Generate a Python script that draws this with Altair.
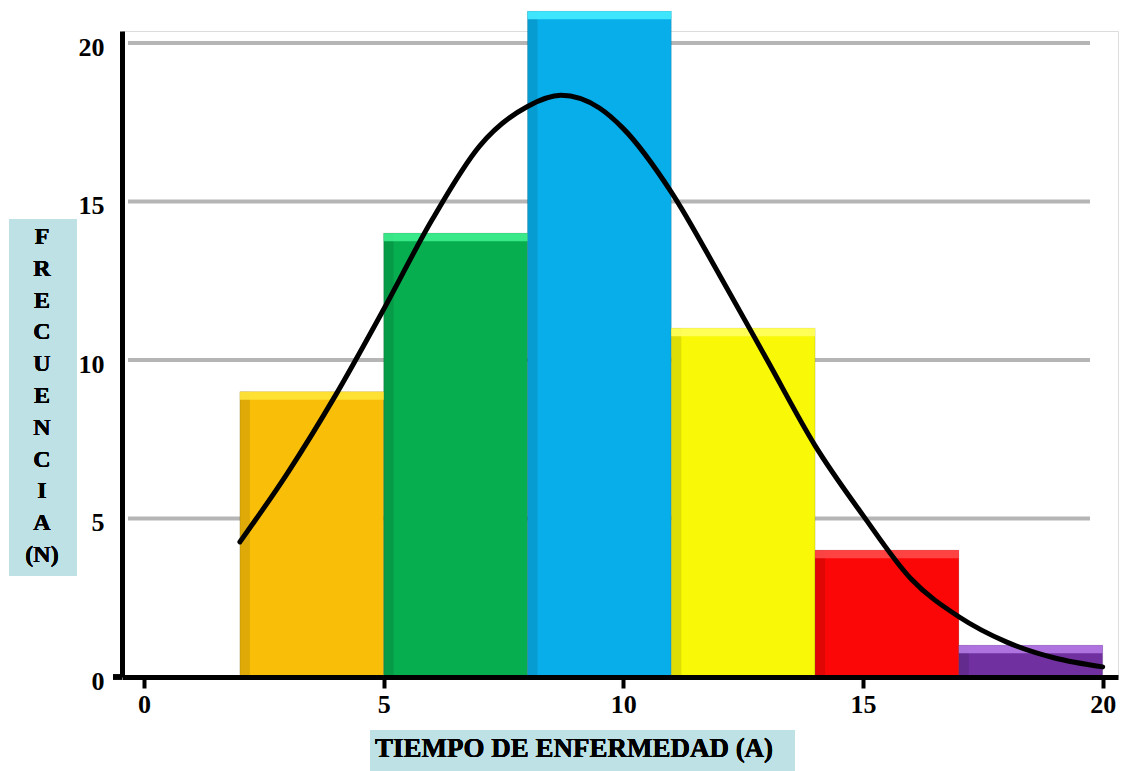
import altair as alt
import pandas as pd

# Histogram classes (years of illness) and their frequencies
bin_start = [2, 5, 8, 11, 14, 17]
bin_end = [5, 8, 11, 14, 17, 20]
freq = [9, 14, 21, 11, 4, 1]
bin_label = ["2-5", "5-8", "8-11", "11-14", "14-17", "17-20"]
bar_colors = ["#F9BE08", "#07AE50", "#07AEEA", "#F8F807", "#FB0707", "#7030A0"]
top_colors = ["#FFE43A", "#3FEE8E", "#45ECFF", "#FFFF60", "#FF4A4A", "#B57BE6"]

# Fitted frequency curve drawn over the bars
curve_x = [2, 3, 4, 5, 6, 7, 8, 8.7, 9.5, 10, 11, 12, 13, 14, 15, 16, 17, 18, 19, 20]
curve_y = [4.26, 6.45, 8.9, 11.6, 14.4, 16.75, 18.0, 18.35, 17.95, 17.3, 15.3,
           12.7, 10.0, 7.3, 5.1, 3.1, 1.9, 1.1, 0.6, 0.32]

# Axis ticks
x_ticks = [0, 5, 10, 15, 20]
y_ticks = [0, 5, 10, 15, 20]
grid_levels = [5, 10, 15, 20]

y_title_letters = ["F", "R", "E", "C", "U", "E", "N", "C", "I", "A", "(N)"]
x_title = "TIEMPO DE ENFERMEDAD (A)"

FONT = "Liberation Serif"
W, H = 996, 646

bars = pd.DataFrame({
    "start": bin_start, "end": bin_end, "freq": freq, "bin": bin_label,
    "fill": bar_colors, "top": top_colors,
})
curve = pd.DataFrame({"x": curve_x, "y": curve_y})
grid = pd.DataFrame({"level": grid_levels})

x_scale = alt.Scale(domain=[-0.46, 20.32], nice=False, zero=False)
y_scale = alt.Scale(domain=[0, 20.38], nice=False)

x_axis = alt.Axis(
    values=x_ticks, title=None, grid=False,
    domainColor="black", domainWidth=5,
    tickColor="black", tickWidth=4, tickSize=11,
    labelFont=FONT, labelFontWeight="bold", labelFontSize=26, labelColor="black",
    labelPadding=3, zindex=1,
)
y_axis = alt.Axis(
    values=y_ticks, title=None, grid=False,
    domainColor="black", domainWidth=5, ticks=False,
    labelFont=FONT, labelFontWeight="bold", labelFontSize=26, labelColor="black",
    labelPadding=18, labelOffset=4, zindex=1,
)

grid_rules = alt.Chart(grid).mark_rule(color="#B5B5B5", strokeWidth=4).encode(
    y=alt.Y("level:Q", scale=y_scale, axis=y_axis),
    x=alt.value(6),
    x2=alt.value(968),
)

bar_layer = alt.Chart(bars).mark_bar(stroke="#00000022", strokeWidth=1).encode(
    x=alt.X("start:Q", scale=x_scale, axis=x_axis),
    x2="end:Q",
    y=alt.Y("freq:Q", scale=y_scale),
    y2=alt.datum(0),
    color=alt.Color("fill:N", scale=None, legend=None),
)

# bevel: light strip along the top edge, shaded strip along the left edge
top_strip = alt.Chart(bars).mark_rule(strokeWidth=8, yOffset=4, opacity=0.9).encode(
    x="start:Q", x2="end:Q",
    y="freq:Q",
    color=alt.Color("top:N", scale=None, legend=None),
)
left_shade = alt.Chart(bars).mark_rule(strokeWidth=10, xOffset=5, color="black", opacity=0.1).encode(
    x="start:Q",
    y="freq:Q", y2=alt.datum(0),
)

curve_layer = alt.Chart(curve).mark_line(
    color="black", strokeWidth=5, interpolate="monotone", strokeCap="round"
).encode(x="x:Q", y="y:Q")

# short stub of the base line to the left of the vertical axis
base_stub = alt.Chart(grid).mark_rule(color="black", strokeWidth=5).encode(
    x=alt.value(-9), x2=alt.value(0), y=alt.value(H)
)

# title boxes
y_box = alt.Chart(grid).mark_rect(color="#BDE1E4").encode(
    x=alt.value(-113), x2=alt.value(-45), y=alt.value(188), y2=alt.value(545)
)
y_text = alt.Chart(grid).mark_text(
    text=y_title_letters, font=FONT, fontWeight="bold", fontSize=24,
    lineHeight=31.8, align="center", baseline="middle", color="black",
).encode(x=alt.value(-80), y=alt.value(206))

x_box = alt.Chart(grid).mark_rect(color="#BDE1E4").encode(
    x=alt.value(248), x2=alt.value(673), y=alt.value(699), y2=alt.value(745)
)
x_text = alt.Chart(grid).mark_text(
    text=x_title, font=FONT, fontWeight="bold", fontSize=27,
    align="center", baseline="middle", color="black",
).encode(x=alt.value(452), y=alt.value(718))

chart = alt.layer(
    grid_rules, bar_layer, left_shade, top_strip, curve_layer, base_stub,
    y_box, y_text, x_box, x_text,
).properties(
    width=W, height=H,
    autosize=alt.AutoSizeParams(type="none"),
    padding={"left": 122, "top": 31, "right": 15, "bottom": 94},
).configure_view(stroke=None).configure(background="white")

chart.save("out.html", embed_options={"renderer": "svg", "actions": False})
